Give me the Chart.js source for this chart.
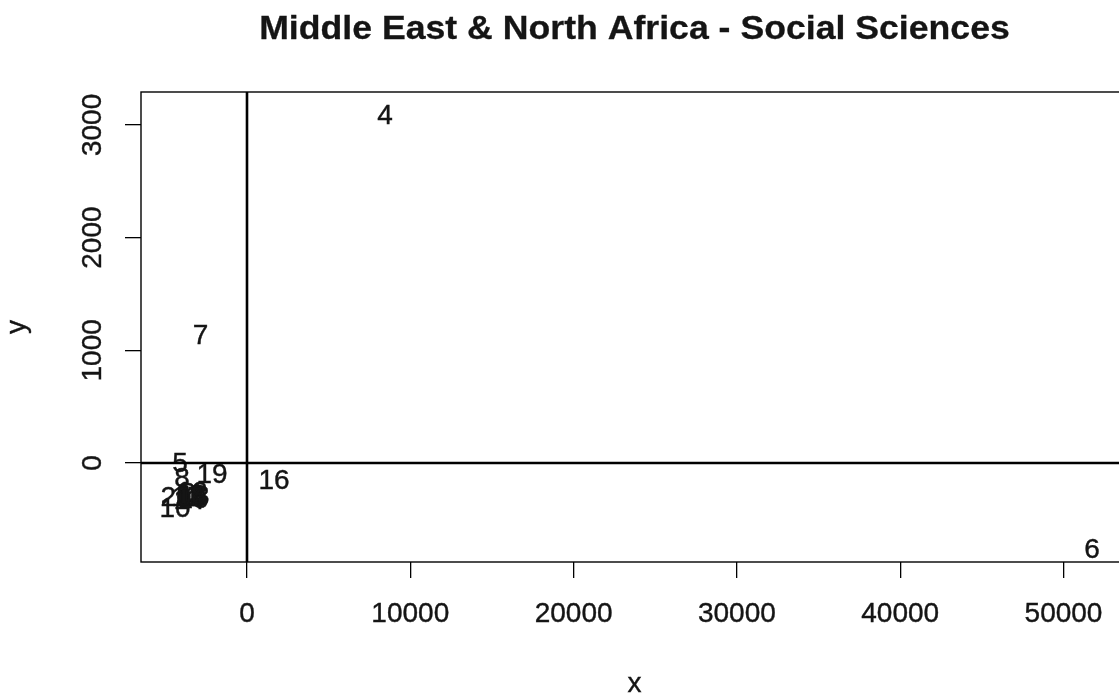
<!DOCTYPE html>
<html>
<head>
<meta charset="utf-8">
<script src="https://cdn.jsdelivr.net/npm/chart.js@4/dist/chart.umd.min.js"></script>
<style>
  html, body { margin: 0; padding: 0; background: #fff; }
  #wrap { width: 1119px; height: 699px; position: relative; }
</style>
</head>
<body>
<div id="wrap"><canvas id="c"></canvas></div>
<script>
// Country index labels and their coordinates
const labels = ['1','2','3','4','5','6','7','8','9','10','11','12','13','14','15','16','17','18','19','20'];
const xValues = [-3368, -3613, -3062, 8451, -4103, 51745, -2848, -3980, -2939, -4409,
                 -3490, -3368, -3246, -3552, -3307, 1653, -3674, -3429, -2143, -4348];
const yValues = [-293, -257, -275, 3097, 9, -750, 1145, -124, -302, -390,
                 -266, -248, -284, -319, -311, -138, -293, -275, -89, -293];

const xTicks = [0, 10000, 20000, 30000, 40000, 50000];
const yTicks = [0, 1000, 2000, 3000];

const chartTitle = 'Middle East & North Africa - Social Sciences';
const xTitle = 'x';
const yTitle = 'y';

const FONT = '"Liberation Sans", Arial, sans-serif';
const INK = '#151515';
const BASE = 28;

// text centred on its cap height at (x, y); sx/sy widen or heighten the glyphs
function drawText(ctx, text, x, y, size, opts = {}) {
  const sx = opts.sx || 1, sy = opts.sy || 1;
  ctx.save();
  ctx.font = (opts.bold ? 'bold ' : '') + size + 'px ' + FONT;
  ctx.fillStyle = INK;
  ctx.strokeStyle = INK;
  ctx.lineWidth = opts.weight == null ? 0.4 : opts.weight;
  ctx.textAlign = 'center';
  ctx.textBaseline = 'alphabetic';
  ctx.translate(x, y);
  ctx.scale(sx, sy);
  if (opts.rotate) ctx.rotate(-Math.PI / 2);
  const dy = (opts.mid || 0.358) * size;
  ctx.fillText(text, 0, dy);
  if (ctx.lineWidth > 0) ctx.strokeText(text, 0, dy);
  ctx.restore();
}

const annotate = {
  id: 'annotate',
  afterDatasetsDraw(chart) {
    const { ctx, chartArea: a, scales: { x, y } } = chart;

    // plot frame (right edge runs past the canvas)
    ctx.save();
    ctx.strokeStyle = '#000';
    ctx.lineWidth = 1.4;
    ctx.strokeRect(a.left, a.top, a.right - a.left + 20, a.bottom - a.top);
    ctx.restore();

    // text labels at each point
    const meta = chart.getDatasetMeta(0);
    meta.data.forEach((el, i) => {
      drawText(ctx, labels[i], el.x, el.y, BASE);
    });

    // reference lines at x = 0 and y = 0
    ctx.save();
    ctx.strokeStyle = '#000';
    ctx.lineWidth = 2.6;
    ctx.beginPath();
    const x0 = x.getPixelForValue(0);
    ctx.moveTo(x0, a.top);
    ctx.lineTo(x0, a.bottom);
    const y0 = y.getPixelForValue(0);
    ctx.moveTo(a.left, y0);
    ctx.lineTo(a.right + 5, y0);
    ctx.stroke();
    ctx.restore();

    // tick labels
    xTicks.forEach(v => drawText(ctx, String(v), x.getPixelForValue(v), a.bottom + 50, BASE));
    yTicks.forEach(v => drawText(ctx, String(v), a.left - 50, y.getPixelForValue(v), BASE, { rotate: true }));

    // titles
    drawText(ctx, chartTitle, 634.5, 27, 33, { bold: true, sx: 1.08, sy: 0.98, weight: 0.3 });
    drawText(ctx, xTitle, (a.left + 1128) / 2, 685, BASE, { mid: 0.26 });
    drawText(ctx, yTitle, 18, (a.top + a.bottom) / 2, BASE, { rotate: true, mid: 0.26 });
  }
};

new Chart(document.getElementById('c'), {
  type: 'scatter',
  data: {
    datasets: [{
      data: xValues.map((v, i) => ({ x: v, y: yValues[i] })),
      pointRadius: 0,
      pointHoverRadius: 0,
      borderColor: 'transparent',
      backgroundColor: 'transparent'
    }]
  },
  options: {
    responsive: true,
    maintainAspectRatio: false,
    animation: false,
    events: [],
    layout: { padding: { top: 92, right: 0, left: 0, bottom: 0 } },
    plugins: { legend: { display: false }, tooltip: { enabled: false }, title: { display: false } },
    scales: {
      x: {
        type: 'linear',
        min: -6491,
        max: 53399,
        afterBuildTicks: s => { s.ticks = xTicks.map(v => ({ value: v })); },
        afterFit: s => { s.height = 137; },
        ticks: { callback: () => '', padding: 0 },
        grid: { drawOnChartArea: false, drawTicks: true, tickLength: 16, color: '#000', lineWidth: 1.3 },
        border: { display: false }
      },
      y: {
        type: 'linear',
        min: -878,
        max: 3292,
        afterBuildTicks: s => { s.ticks = yTicks.map(v => ({ value: v })); },
        afterFit: s => { s.width = 141; },
        ticks: { callback: () => '', padding: 0 },
        grid: { drawOnChartArea: false, drawTicks: true, tickLength: 16, color: '#000', lineWidth: 1.3 },
        border: { display: false }
      }
    }
  },
  plugins: [annotate]
});
</script>
</body>
</html>
